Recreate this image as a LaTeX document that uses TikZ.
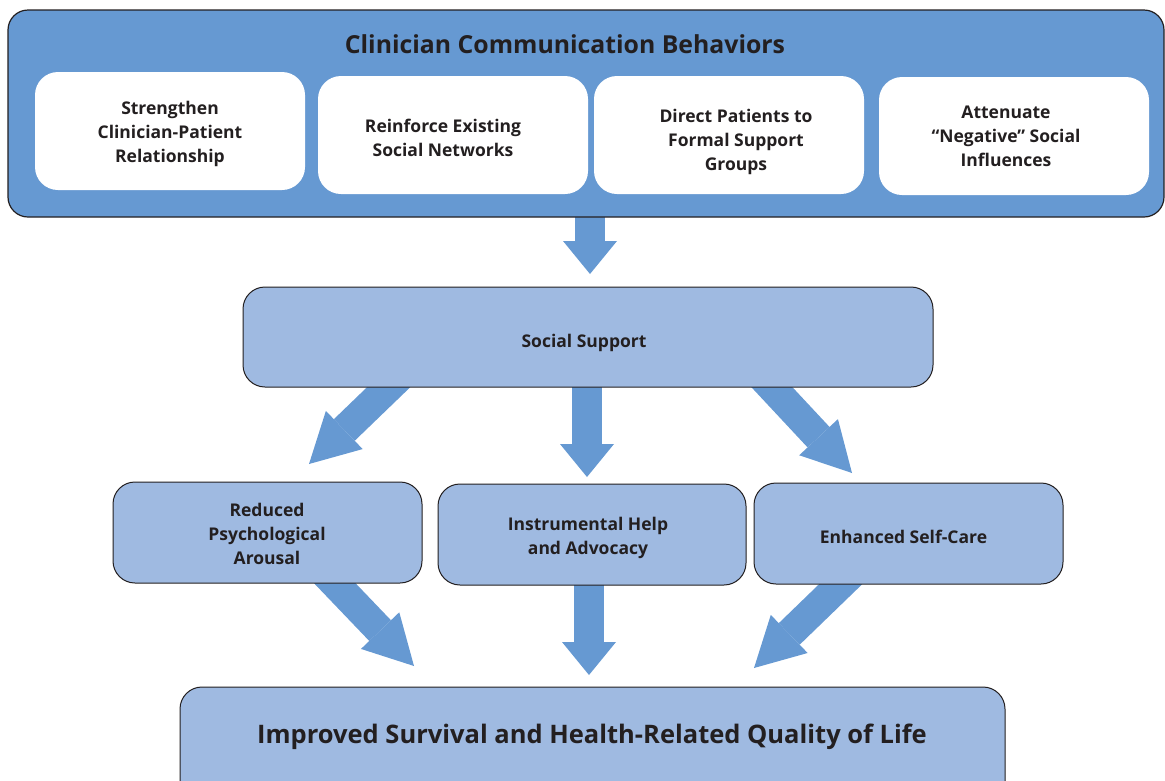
\documentclass[tikz,border=0pt]{standalone}
\usepackage{fontspec}
\setmainfont{Open Sans}
\usetikzlibrary{arrows.meta}
\definecolor{dblue}{RGB}{102,153,210}
\definecolor{lblue}{RGB}{159,186,225}
\definecolor{ink}{RGB}{35,31,32}
\begin{document}
\begin{tikzpicture}[x=1pt,y=-1pt,
  outerbox/.style={draw=ink, line width=1.2pt, fill=dblue, rounded corners=20pt, inner sep=0pt},
  whitebox/.style={fill=white, rounded corners=23pt, minimum width=270pt, minimum height=118pt, inner sep=0pt},
  lightbox/.style={draw=ink, line width=1pt, fill=lblue, rounded corners=22pt, inner sep=0pt},
  boxtext/.style={align=center, text=ink, inner sep=0pt, yshift=-2.5pt, font=\bfseries\fontsize{17.5}{24}\selectfont},
  titletext/.style={text=ink, inner sep=0pt, font=\bfseries\fontsize{24.8}{28}\selectfont},
  bigtext/.style={text=ink, inner sep=0pt, yshift=-3pt, font=\bfseries\fontsize{25.5}{28}\selectfont},
  vblock/.style={draw=dblue, line width=30pt, -{Triangle[width=54pt,length=33pt,line width=0pt]}},
  dblock/.style={draw=dblue, line width=30pt, -{Triangle[width=53pt,length=49pt,line width=0pt]}}
]
\useasboundingbox (0,0) rectangle (1165,780);
\clip (0,0) rectangle (1165,780);

% arrow coordinates
\coordinate (a0s) at (590,205);  \coordinate (a0t) at (590,274);
\coordinate (a1s) at (421,356);  \coordinate (a1t) at (309,464);
\coordinate (a2s) at (587,370);  \coordinate (a2t) at (587,477);
\coordinate (a3s) at (740,353);  \coordinate (a3t) at (852,473);
\coordinate (a4s) at (303,550);  \coordinate (a4t) at (414,666);
\coordinate (a5s) at (589,570);  \coordinate (a5t) at (589,675);
\coordinate (a6s) at (876,550);  \coordinate (a6t) at (754,668);

\draw[vblock] (a0s) -- (a0t);
\draw[dblock] (a1s) -- (a1t);
\draw[vblock] (a2s) -- (a2t);
\draw[dblock] (a3s) -- (a3t);
\draw[dblock] (a4s) -- (a4t);
\draw[vblock] (a5s) -- (a5t);
\draw[dblock] (a6s) -- (a6t);

% top box
\node[outerbox, minimum width=1156pt, minimum height=207pt] (ccb) at (586,113.5) {};
\node[titletext] (title) at (565,44) {Clinician Communication Behaviors};

\node[whitebox] (w1) at (170,131) {};
\node[whitebox] (w2) at (453,135) {};
\node[whitebox] (w3) at (729,135) {};
\node[whitebox] (w4) at (1014,136) {};
\node[boxtext] (t1) at (170,131) {Strengthen\\Clinician-Patient\\Relationship};
\node[boxtext] (t2) at (443,135) {Reinforce Existing\\Social Networks};
\node[boxtext] (t3) at (736,139) {Direct Patients to\\Formal Support\\Groups};
\node[boxtext] (t4) at (1006,134) {Attenuate\\“Negative” Social\\Influences};

% social support
\node[lightbox, minimum width=690pt, minimum height=100pt] (ss) at (588,337) {};
\node[boxtext] (sst) at (584,340) {Social Support};

% middle row
\node[lightbox, minimum width=309pt, minimum height=101pt] (rpa) at (267.5,532.5) {};
\node[boxtext] (rpat) at (267,531) {Reduced\\Psychological\\Arousal};
\node[lightbox, minimum width=308pt, minimum height=101pt] (iha) at (592,534.5) {};
\node[boxtext] (ihat) at (588,535) {Instrumental Help\\and Advocacy};
\node[lightbox, minimum width=309pt, minimum height=101pt] (esc) at (908.5,533.5) {};
\node[boxtext] (esct) at (903.5,534) {Enhanced Self-Care};

% bottom
\node[lightbox, minimum width=825pt, minimum height=130pt] (out) at (592.5,752) {};
\node[bigtext] (outt) at (592,734) {Improved Survival and Health-Related Quality of Life};
\end{tikzpicture}
\end{document}
